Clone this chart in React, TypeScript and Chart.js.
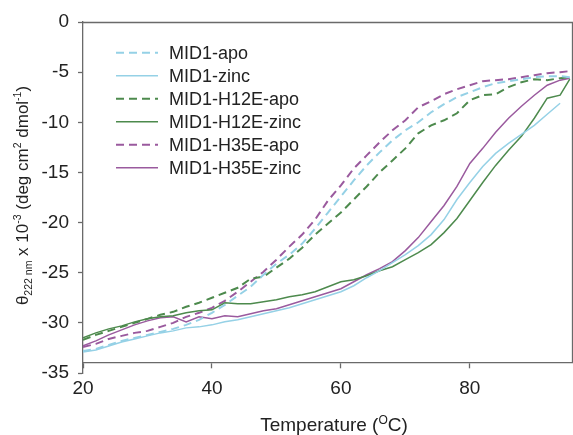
import React, { useEffect, useRef } from 'react';
import { Chart, registerables } from 'chart.js';

Chart.register(...registerables);

const temperatures = [20, 22, 24, 26, 28, 30, 32, 34, 36, 38, 40, 42, 44, 46, 48, 50, 52, 54, 56, 58, 60, 62, 64, 66, 68, 70, 72, 74, 76, 78, 80, 82, 84, 86, 88, 90, 92, 94, 95.5];

const mid1Apo = [-32.8, -32.6, -32.2, -31.8, -31.5, -31.2, -30.9, -30.6, -30.2, -29.7, -29.0, -28.2, -27.3, -26.4, -25.2, -24.1, -23.2, -22.1, -20.6, -19.0, -17.4, -15.8, -14.3, -13.0, -11.8, -10.8, -10.0, -9.0, -8.2, -7.5, -7.0, -6.5, -6.1, -5.9, -5.7, -5.5, -5.4, -5.4, -5.5];
const mid1Zinc = [-32.9, -32.7, -32.3, -31.9, -31.6, -31.3, -31.0, -30.8, -30.5, -30.4, -30.2, -29.9, -29.7, -29.4, -29.1, -28.8, -28.5, -28.1, -27.7, -27.3, -26.9, -26.3, -25.5, -24.8, -24.0, -23.2, -22.3, -21.2, -19.7, -17.7, -16.0, -14.4, -13.1, -12.1, -11.2, -10.3, -9.2, -8.1, null];
const h12eApo = [-31.7, -31.2, -30.8, -30.4, -30.0, -29.6, -29.2, -28.9, -28.4, -28.0, -27.5, -27.0, -26.5, -25.6, -25.4, -24.5, -23.6, -22.5, -21.2, -20.1, -19.0, -17.7, -16.4, -15.0, -13.8, -12.6, -11.1, -10.3, -9.8, -9.1, -7.8, -7.3, -7.2, -6.5, -6.0, -5.7, -5.8, -5.6, -5.5];
const h12eZinc = [-31.5, -31.0, -30.6, -30.3, -29.9, -29.6, -29.4, -29.3, -29.0, -28.8, -28.7, -28.0, -28.1, -28.1, -27.9, -27.7, -27.4, -27.2, -26.9, -26.4, -25.9, -25.7, -25.3, -24.8, -24.4, -23.7, -23.0, -22.2, -21.0, -19.6, -17.8, -16.0, -14.3, -12.8, -11.4, -9.6, -7.6, -7.3, -5.7];
const h35eApo = [-32.4, -32.1, -31.6, -31.3, -31.0, -30.8, -30.4, -30.0, -29.4, -29.0, -28.5, -27.8, -26.9, -25.9, -24.9, -23.7, -22.4, -21.2, -19.7, -17.8, -16.3, -14.6, -13.3, -12.0, -10.8, -9.8, -8.5, -7.9, -7.2, -6.7, -6.3, -5.9, -5.8, -5.7, -5.5, -5.3, -5.1, -5.0, -4.9];
const h35eZinc = [-32.3, -31.8, -31.2, -30.7, -30.2, -29.8, -29.5, -29.4, -29.9, -29.4, -29.6, -29.3, -29.4, -29.1, -28.8, -28.6, -28.2, -27.8, -27.4, -27.0, -26.6, -25.9, -25.2, -24.6, -23.9, -22.8, -21.5, -19.9, -18.3, -16.4, -14.1, -12.6, -11.0, -9.6, -8.4, -7.3, -6.3, -5.8, -5.6];

const seriesLabels = ['MID1-apo', 'MID1-zinc', 'MID1-H12E-apo', 'MID1-H12E-zinc', 'MID1-H35E-apo', 'MID1-H35E-zinc'];
const xTicks = [20, 40, 60, 80];
const yTicks = [0, -5, -10, -15, -20, -25, -30, -35];

const FONT = '"Liberation Sans", Arial, Helvetica, sans-serif';
const TEXT = '#222222';
const AXIS = '#6a6a6a';
const CYAN = '#95d1e6';
const GREEN = '#4d8a4d';
const PURPLE = '#9a5a9e';
const DASH = [8, 5];

type Seg = { text: string; size: number; dy: number };

function drawRich(ctx: CanvasRenderingContext2D, segs: Seg[], cx: number, baseline: number) {
  let total = 0;
  const widths: number[] = [];
  for (const s of segs) {
    ctx.font = `${s.size}px ${FONT}`;
    const w = ctx.measureText(s.text).width;
    widths.push(w);
    total += w;
  }
  let x = cx - total / 2;
  segs.forEach((s, i) => {
    ctx.font = `${s.size}px ${FONT}`;
    ctx.fillText(s.text, x, baseline + s.dy);
    x += widths[i];
  });
}

const decorPlugin = {
  id: 'decor',
  beforeDatasetsDraw(chart: any) {
    const { ctx } = chart;
    const xs = chart.scales.x;
    const ys = chart.scales.y;
    const left = xs.getPixelForValue(20);
    const right = Math.round(xs.getPixelForValue(96)) - 0.5;
    const top = Math.round(ys.getPixelForValue(0)) + 0.5;
    const bottom = ys.getPixelForValue(-34);
    ctx.save();
    ctx.strokeStyle = AXIS;
    ctx.lineWidth = 1.3;
    ctx.beginPath();
    ctx.moveTo(left, top);
    ctx.lineTo(right, top);
    ctx.lineTo(right, bottom);
    ctx.stroke();
    ctx.restore();
  },
  afterDraw(chart: any) {
    const { ctx, chartArea } = chart;
    const ys = chart.scales.y;
    ctx.save();
    ctx.fillStyle = TEXT;
    ctx.textBaseline = 'alphabetic';

    // legend
    const rowH = 23;
    const y0 = chartArea.top + 30.8;
    const lx0 = chartArea.left + 33;
    const lx1 = chartArea.left + 75;
    chart.data.datasets.forEach((ds: any, i: number) => {
      const y = y0 + i * rowH;
      ctx.save();
      ctx.strokeStyle = ds.borderColor;
      ctx.lineWidth = ds.borderWidth;
      ctx.setLineDash(ds.borderDash || []);
      ctx.beginPath();
      ctx.moveTo(lx0, y);
      ctx.lineTo(lx1, y);
      ctx.stroke();
      ctx.restore();
      ctx.font = `18px ${FONT}`;
      ctx.textBaseline = 'middle';
      ctx.fillText(ds.label, chartArea.left + 86, y + 1);
    });

    // x title
    ctx.textBaseline = 'alphabetic';
    drawRich(ctx, [
      { text: 'Temperature (', size: 19, dy: 0 },
      { text: 'O', size: 12, dy: -7 },
      { text: 'C)', size: 19, dy: 0 },
    ], 334, 431);

    // y title
    const cy = (ys.getPixelForValue(0) + ys.getPixelForValue(-35)) / 2 - 2;
    ctx.save();
    ctx.translate(28, cy);
    ctx.rotate(-Math.PI / 2);
    drawRich(ctx, [
      { text: 'θ', size: 17, dy: 0 },
      { text: '222 nm', size: 10.5, dy: 4 },
      { text: ' x 10', size: 17, dy: 0 },
      { text: '-3', size: 10.5, dy: -7 },
      { text: ' (deg cm', size: 17, dy: 0 },
      { text: '2', size: 10.5, dy: -7 },
      { text: ' dmol', size: 17, dy: 0 },
      { text: '-1', size: 10.5, dy: -7 },
      { text: ')', size: 17, dy: 0 },
    ], 0, 0);
    ctx.restore();
    ctx.restore();
  },
};

function makeSeries(label: string, values: (number | null)[], color: string, dashed: boolean) {
  return {
    label,
    data: temperatures.map((t, i) => ({ x: t, y: values[i] })),
    borderColor: color,
    backgroundColor: color,
    borderWidth: dashed ? 2 : 1.5,
    borderDash: dashed ? DASH : [],
    pointRadius: 0,
    fill: false,
    tension: 0,
    spanGaps: false,
  };
}

export default function App() {
  const canvasRef = useRef<HTMLCanvasElement | null>(null);

  useEffect(() => {
    const canvas = canvasRef.current;
    if (!canvas) return;
    const chart = new Chart(canvas, {
      type: 'line',
      data: {
        datasets: [
          makeSeries(seriesLabels[0], mid1Apo, CYAN, true),
          makeSeries(seriesLabels[1], mid1Zinc, CYAN, false),
          makeSeries(seriesLabels[2], h12eApo, GREEN, true),
          makeSeries(seriesLabels[3], h12eZinc, GREEN, false),
          makeSeries(seriesLabels[4], h35eApo, PURPLE, true),
          makeSeries(seriesLabels[5], h35eZinc, PURPLE, false),
        ] as any,
      },
      options: {
        responsive: false,
        maintainAspectRatio: false,
        animation: false,
        events: [],
        layout: { padding: { top: 22, right: 0, bottom: 62, left: 0 } },
        plugins: {
          legend: { display: false },
          tooltip: { enabled: false },
          title: { display: false },
        },
        scales: {
          x: {
            type: 'linear',
            min: 20,
            max: 96,
            position: { y: -34 } as any,
            afterBuildTicks: (s: any) => {
              s.ticks = xTicks.map((v) => ({ value: v }));
            },
            grid: { drawOnChartArea: false, drawTicks: true, tickLength: 5, tickColor: AXIS, tickWidth: 1.3 },
            border: { display: true, color: AXIS, width: 1.3 },
            ticks: { font: { family: FONT, size: 19 }, color: TEXT, padding: 9, maxRotation: 0, autoSkip: false },
          },
          y: {
            type: 'linear',
            min: -35,
            max: 0,
            afterBuildTicks: (s: any) => {
              s.ticks = yTicks.map((v) => ({ value: v }));
            },
            afterFit: (s: any) => {
              s.width = 83;
            },
            grid: { drawOnChartArea: false, drawTicks: true, tickLength: 5, tickColor: AXIS, tickWidth: 1.3 },
            border: { display: true, color: AXIS, width: 1.3 },
            ticks: { font: { family: FONT, size: 19 }, color: TEXT, padding: 9, autoSkip: false },
          },
        },
      } as any,
      plugins: [decorPlugin],
    });
    return () => chart.destroy();
  }, []);

  return (
    <div style={{ position: 'fixed', left: 0, top: 0, width: 573, height: 435, background: '#ffffff' }}>
      <canvas ref={canvasRef} width={573} height={435} style={{ display: 'block' }} />
    </div>
  );
}
